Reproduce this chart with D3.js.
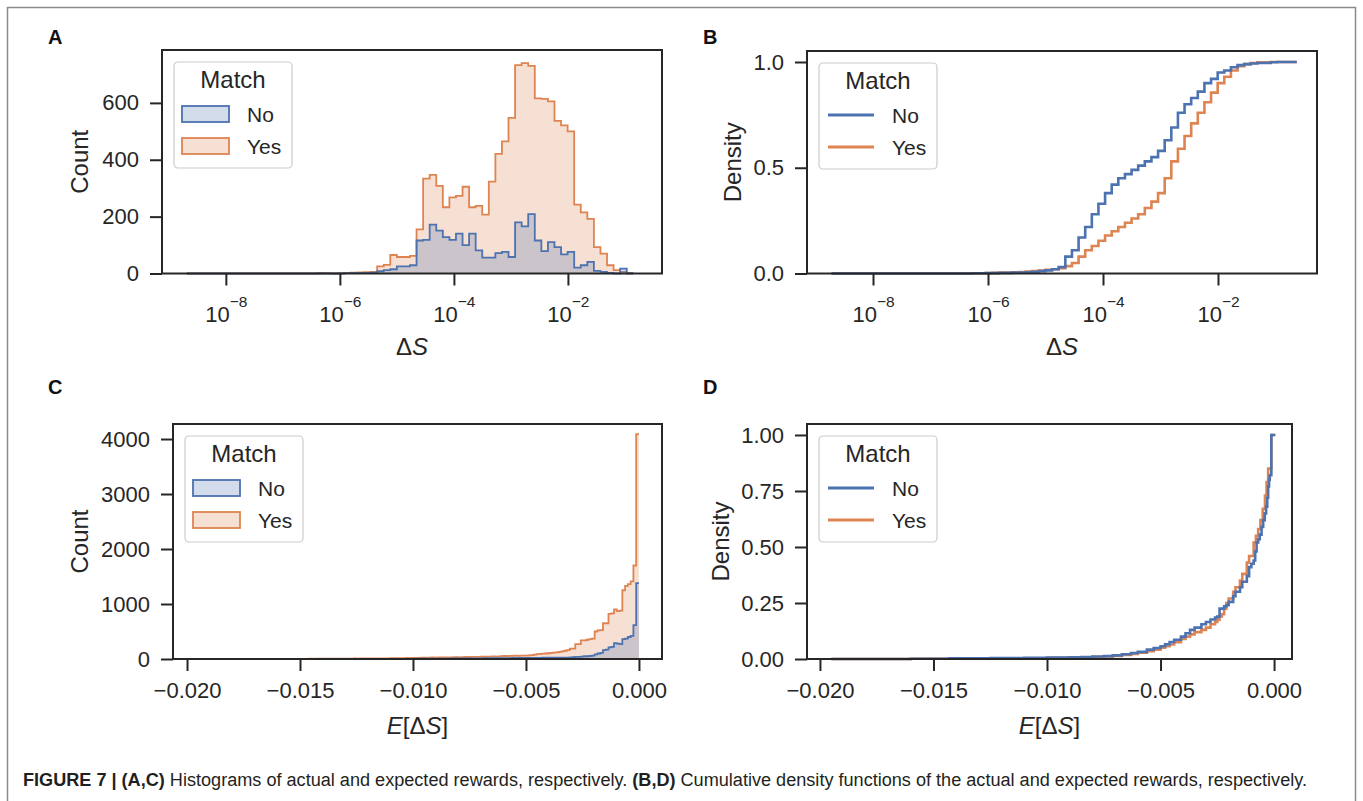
<!DOCTYPE html>
<html>
<head>
<meta charset="utf-8">
<script src="https://cdn.jsdelivr.net/npm/d3@7"></script>
<style>
  body { margin: 0; background: #fff; }
  text { font-family: "Liberation Sans", Arial, sans-serif; }
</style>
</head>
<body>
<svg id="fig" width="1363" height="801"></svg>
<script>
// ---------- data ----------
const matchLevels = ["No", "Yes"];
const matchColors = { No: "#4c72b0", Yes: "#dd8452" };

// A / B : delta S, bins in log10 space
const dsBinStart = -8.687;
const dsBinWidth = 0.1152;
const dsMin = -8.72;   // smallest value (log10)
const dsMax = -0.63;   // largest value (log10)

const dsCountYes = [
  0, 0, 0, 0, 0, 0, 0, 0, 0, 0,
  0, 0, 0, 0, 0, 0, 0, 0, 0, 0,
  2, 1, 0, 1, 2, 3, 4, 5, 6, 25,
  30, 65, 58, 58, 62, 155, 334, 347, 308, 233,
  268, 273, 305, 233, 238, 207, 323, 421, 465, 547,
  733, 740, 730, 616, 614, 605, 537, 521, 500, 242,
  215, 192, 93, 70, 29, 12, 6, 2
];
const dsCountNo = [
  0, 0, 0, 0, 0, 0, 0, 0, 0, 0,
  0, 0, 0, 0, 0, 0, 0, 0, 0, 0,
  0, 0, 0, 0, 1, 1, 1, 2, 3, 8,
  12, 15, 25, 25, 29, 116, 118, 172, 151, 128,
  118, 140, 100, 140, 81, 56, 56, 72, 76, 58,
  180, 166, 209, 116, 79, 110, 93, 67, 76, 21,
  29, 41, 9, 6, 2, 0, 17, 0
];
// ECDF level reached at the start of each bin
const dsCdfNo = [
  0, 0, 0, 0, 0, 0, 0, 0, 0, 0,
  0, 0, 0, 0, 0, 0, 0, 0, 0, 0,
  0, 0.001, 0.001, 0.002, 0.002, 0.003, 0.003, 0.004, 0.004, 0.006,
  0.008, 0.011, 0.015, 0.02, 0.03, 0.08, 0.11, 0.17, 0.22, 0.28,
  0.33, 0.38, 0.42, 0.45, 0.47, 0.49, 0.51, 0.53, 0.55, 0.58,
  0.63, 0.69, 0.76, 0.80, 0.83, 0.86, 0.90, 0.92, 0.95, 0.96,
  0.975, 0.985, 0.99, 0.993, 0.995, 0.995, 0.999, 1.0
];
const dsCdfYes = [
  0, 0, 0, 0, 0, 0, 0, 0, 0, 0,
  0, 0, 0, 0, 0, 0, 0, 0, 0, 0,
  0.0005, 0.001, 0.0015, 0.002, 0.003, 0.004, 0.005, 0.006, 0.007, 0.009,
  0.011, 0.014, 0.017, 0.02, 0.025, 0.035, 0.05, 0.08, 0.11, 0.13,
  0.155, 0.18, 0.20, 0.22, 0.24, 0.26, 0.28, 0.31, 0.34, 0.38,
  0.45, 0.53, 0.59, 0.65, 0.71, 0.76, 0.81, 0.855, 0.90, 0.93,
  0.96, 0.98, 0.99, 0.995, 0.998, 0.999, 1.0, 1.0
];

// C : E[delta S], linear bins
const eBinStart = -0.0196;
const eBinWidth = 0.0001225;
const eCountYes = [
  0, 0, 0, 0, 0, 1, 0, 0, 0, 0,
  0, 0, 1, 0, 0, 0, 1, 0, 0, 1,
  0, 1, 0, 1, 1, 0, 1, 2, 1, 2,
  3, 2, 3, 3, 2, 4, 3, 4, 3, 4,
  4, 5, 4, 5, 6, 5, 6, 6, 5, 7,
  5, 6, 7, 6, 8, 7, 8, 9, 8, 10,
  10, 9, 11, 10, 12, 11, 10, 12, 13, 12,
  15, 14, 16, 15, 17, 16, 18, 17, 20, 19,
  22, 24, 23, 26, 25, 27, 26, 28, 27, 30,
  29, 31, 30, 32, 33, 31, 34, 36, 35, 38,
  38, 40, 39, 42, 41, 44, 43, 46, 45, 48,
  52, 55, 54, 56, 58, 60, 58, 62, 60, 63,
  67, 70, 80, 90, 95, 98, 100, 105, 110, 116,
  120, 128, 140, 150, 160, 190, 190, 270, 270, 340,
  340, 350, 360, 370, 500, 520, 525, 650, 650, 820,
  830, 900, 870, 880, 1250, 1330, 1360, 1410, 1700, 4090
];
const eCountNo = [
  0, 0, 0, 0, 0, 0, 0, 0, 0, 0,
  0, 0, 0, 0, 0, 0, 0, 0, 0, 0,
  0, 0, 0, 0, 0, 1, 0, 0, 0, 0,
  0, 0, 1, 0, 0, 0, 0, 1, 0, 0,
  0, 1, 0, 0, 1, 0, 0, 0, 1, 0,
  1, 0, 0, 1, 0, 1, 0, 1, 0, 1,
  1, 0, 1, 1, 0, 1, 1, 2, 1, 1,
  2, 3, 2, 3, 4, 3, 4, 3, 4, 5,
  4, 5, 5, 6, 5, 6, 7, 6, 7, 8,
  8, 7, 9, 8, 9, 10, 9, 11, 10, 12,
  11, 12, 13, 12, 14, 13, 15, 14, 15, 16,
  15, 16, 17, 16, 18, 17, 19, 18, 20, 19,
  18, 19, 20, 21, 22, 25, 25, 25, 25, 25,
  25, 25, 25, 25, 25, 30, 35, 37, 40, 45,
  50, 50, 55, 60, 85, 100, 110, 160, 170, 210,
  220, 290, 280, 270, 360, 370, 400, 420, 616, 1380
];

// D : ECDF of E[delta S], step points (x, level)
const eCdfXNo = [-0.0195, -0.0160, -0.0143, -0.0125, -0.0110, -0.0100, -0.0090, -0.0085, -0.0080, -0.0075,
  -0.0071, -0.0067, -0.0063, -0.0060, -0.0056, -0.0053, -0.0050, -0.0048, -0.0046, -0.0044,
  -0.0041, -0.0039, -0.0037, -0.0035, -0.0032, -0.0030, -0.0028, -0.0026, -0.0025, -0.0024,
  -0.0022, -0.0021, -0.0020, -0.0018, -0.0017, -0.0015, -0.0014, -0.0012, -0.0011, -0.0010,
  -0.0009, -0.00083, -0.00077, -0.0007, -0.00063, -0.00055, -0.00048, -0.00041, -0.00035, -0.0003,
  -0.00026, -0.00022, -0.00019, -0.00012, 0.00006];
const eCdfYNo = [0, 0.001, 0.003, 0.004, 0.005, 0.006, 0.008, 0.009, 0.011, 0.013,
  0.016, 0.021, 0.027, 0.032, 0.042, 0.049, 0.057, 0.066, 0.076, 0.086,
  0.10, 0.115, 0.13, 0.14, 0.155, 0.165, 0.176, 0.185, 0.19, 0.225,
  0.235, 0.24, 0.255, 0.28, 0.30, 0.32, 0.345, 0.37, 0.41, 0.425,
  0.44, 0.48, 0.52, 0.535, 0.555, 0.59, 0.62, 0.65, 0.68, 0.72,
  0.77, 0.80, 0.82, 1.0, 1.0];
const eCdfXYes = [-0.0195, -0.0160, -0.0140, -0.0120, -0.0100, -0.0090, -0.0085, -0.0080, -0.0075, -0.0071,
  -0.0067, -0.0063, -0.0060, -0.0056, -0.0053, -0.0050, -0.0048, -0.0046, -0.0044, -0.0041,
  -0.0039, -0.0037, -0.0035, -0.0032, -0.0030, -0.0028, -0.0026, -0.0025, -0.0024, -0.0023,
  -0.0022, -0.0021, -0.0020, -0.0018, -0.0017, -0.0015, -0.0014, -0.0012, -0.0011, -0.0009,
  -0.0008, -0.0007, -0.0006, -0.0005, -0.0004, -0.00033, -0.00026, -0.00012, 0.00003];
const eCdfYYes = [0, 0.0008, 0.002, 0.003, 0.005, 0.006, 0.007, 0.009, 0.011, 0.014,
  0.018, 0.022, 0.028, 0.035, 0.042, 0.05, 0.057, 0.065, 0.075, 0.09,
  0.10, 0.11, 0.12, 0.13, 0.14, 0.155, 0.165, 0.175, 0.19, 0.20,
  0.225, 0.25, 0.27, 0.30, 0.32, 0.35, 0.38, 0.43, 0.46, 0.52,
  0.55, 0.58, 0.62, 0.67, 0.73, 0.79, 0.85, 1.0, 1.0];

const countTicksA = [0, 200, 400, 600];
const countTicksC = [0, 1000, 2000, 3000, 4000];
const densTicksB = [0, 0.5, 1.0];
const densTicksD = [0, 0.25, 0.5, 0.75, 1.0];
const logTicks = [-8, -6, -4, -2];
const eTicks = [-0.020, -0.015, -0.010, -0.005, 0.000];

// ---------- layout ----------
const ink = "#262626";
const svg = d3.select("#fig");

const boxA = { left: 162, right: 662, top: 50, bottom: 273.5 };
const boxB = { left: 807, right: 1317, top: 51, bottom: 273.5 };
const boxC = { left: 173, right: 662, top: 424, bottom: 659 };
const boxD = { left: 807, right: 1292, top: 424, bottom: 659 };

// outer frame of the figure
svg.append("rect")
  .attr("x", 7.5).attr("y", 7.5)
  .attr("width", 1348).attr("height", 830)
  .attr("fill", "none")
  .attr("stroke", "#8a8a8a")
  .attr("stroke-width", 1.5);

// scales
const xA = d3.scaleLog().domain([10 ** -9.12, 10 ** -0.35]).range([boxA.left, boxA.right]);
const yA = d3.scaleLinear().domain([0, 786]).range([boxA.bottom, boxA.top]);
const xB = d3.scaleLog().domain([10 ** -9.148, 10 ** -0.278]).range([boxB.left, boxB.right]);
const yB = d3.scaleLinear().domain([0, 1.052]).range([boxB.bottom, boxB.top]);
const xC = d3.scaleLinear().domain([-0.02062, 0.00102]).range([boxC.left, boxC.right]);
const yC = d3.scaleLinear().domain([0, 4273]).range([boxC.bottom, boxC.top]);
const xD = d3.scaleLinear().domain([-0.02057, 0.00079]).range([boxD.left, boxD.right]);
const yD = d3.scaleLinear().domain([0, 1.049]).range([boxD.bottom, boxD.top]);

// ---------- helpers ----------
function drawHist(x, y, edges, counts, color) {
  const pts = counts.map((c, i) => [edges[i], c]);
  pts.push([edges[counts.length], counts[counts.length - 1]]);
  svg.append("path")
    .datum(pts)
    .attr("fill", color)
    .attr("fill-opacity", 0.25)
    .attr("d", d3.area().curve(d3.curveStepAfter)
      .x(d => x(d[0])).y0(y(0)).y1(d => y(d[1])));
  svg.append("path")
    .datum(pts)
    .attr("fill", "none")
    .attr("stroke", color)
    .attr("stroke-width", 1.8)
    .attr("d", d3.line().curve(d3.curveStepAfter).x(d => x(d[0])).y(d => y(d[1])));
}

function drawEcdf(x, y, pts, color) {
  svg.append("path")
    .datum(pts)
    .attr("fill", "none")
    .attr("stroke", color)
    .attr("stroke-width", 2.6)
    .attr("d", d3.line().curve(d3.curveStepAfter).x(d => x(d[0])).y(d => y(d[1])));
}

function drawAxes(box, x, y, xTicks, yTicks, xFmt, yFmt, isLog) {
  const gx = svg.append("g")
    .attr("transform", `translate(0,${box.bottom})`)
    .call(d3.axisBottom(x).tickValues(xTicks).tickSize(12).tickSizeOuter(0).tickPadding(11)
      .tickFormat(isLog ? () => "" : xFmt));
  const gy = svg.append("g")
    .attr("transform", `translate(${box.left},0)`)
    .call(d3.axisLeft(y).tickValues(yTicks).tickSize(12).tickSizeOuter(0).tickPadding(11)
      .tickFormat(yFmt));
  [gx, gy].forEach(g => {
    g.select(".domain").remove();
    g.selectAll("line").attr("stroke", ink).attr("stroke-width", 2);
    g.selectAll("text").attr("fill", ink).attr("font-size", 22)
      .attr("font-family", "'Liberation Sans', Arial, sans-serif");
  });
  if (isLog) {
    gx.selectAll(".tick").each(function (d) {
      const t = d3.select(this).append("text")
        .attr("y", 48.5)
        .attr("fill", ink)
        .attr("font-size", 22)
        .attr("text-anchor", "middle")
        .attr("font-family", "'Liberation Sans', Arial, sans-serif");
      t.append("tspan").text("10");
      t.append("tspan").attr("dy", -15).attr("font-size", 15.5)
        .text("\u2212" + Math.abs(Math.round(Math.log10(d))));
    });
  }
}

function drawSpines(box) {
  svg.append("rect")
    .attr("x", box.left).attr("y", box.top)
    .attr("width", box.right - box.left).attr("height", box.bottom - box.top)
    .attr("fill", "none")
    .attr("stroke", ink)
    .attr("stroke-width", 2);
}

function drawLegend(box, kind) {
  const lx = box.left + 12, ly = box.top + 12;
  const g = svg.append("g").attr("transform", `translate(${lx},${ly})`);
  g.append("rect")
    .attr("width", 118).attr("height", 106).attr("rx", 4)
    .attr("fill", "#fff").attr("fill-opacity", 0.8)
    .attr("stroke", "#cccccc").attr("stroke-width", 1.2);
  g.append("text")
    .attr("x", 59).attr("y", 26)
    .attr("text-anchor", "middle")
    .attr("font-size", 24)
    .attr("fill", ink)
    .text("Match");
  matchLevels.forEach((lvl, i) => {
    const cy = 52 + i * 32;
    if (kind === "patch") {
      g.append("rect")
        .attr("x", 8).attr("y", cy - 8).attr("width", 47).attr("height", 16)
        .attr("fill", matchColors[lvl]).attr("fill-opacity", 0.25)
        .attr("stroke", matchColors[lvl]).attr("stroke-width", 1.8);
    } else {
      g.append("line")
        .attr("x1", 9).attr("x2", 55).attr("y1", cy).attr("y2", cy)
        .attr("stroke", matchColors[lvl]).attr("stroke-width", 3);
    }
    g.append("text")
      .attr("x", 73).attr("y", cy + 7.5)
      .attr("font-size", 21)
      .attr("fill", ink)
      .text(lvl);
  });
}

function yLabel(x, box, label) {
  svg.append("text")
    .attr("transform", `translate(${x},${(box.top + box.bottom) / 2}) rotate(-90)`)
    .attr("text-anchor", "middle")
    .attr("font-size", 24)
    .attr("fill", ink)
    .text(label);
}

function xMathLabel(box, y, withE) {
  const t = svg.append("text")
    .attr("x", (box.left + box.right) / 2).attr("y", y)
    .attr("text-anchor", "middle")
    .attr("font-size", 24)
    .attr("fill", ink)
    .attr("font-family", "'DejaVu Sans', sans-serif");
  if (withE) {
    t.append("tspan").attr("font-style", "italic").text("E");
    t.append("tspan").text("[\u0394");
  } else {
    t.append("tspan").text("\u0394");
  }
  t.append("tspan").attr("font-style", "italic").text("S");
  if (withE) t.append("tspan").text("]");
}

function panelLetter(x, y, s) {
  svg.append("text")
    .attr("x", x).attr("y", y)
    .attr("font-size", 20)
    .attr("font-weight", "bold")
    .attr("fill", "#111")
    .text(s);
}

const fmtMinus = d => d3.format(".3f")(d).replace("-", "\u2212");

// ---------- panel A ----------
const dsEdges = d3.range(dsCountYes.length + 1).map(i => 10 ** (dsBinStart + i * dsBinWidth));
drawHist(xA, yA, dsEdges, dsCountYes, matchColors.Yes);
drawHist(xA, yA, dsEdges, dsCountNo, matchColors.No);
drawAxes(boxA, xA, yA, logTicks.map(e => 10 ** e), countTicksA, null, d3.format("d"), true);
drawSpines(boxA);
drawLegend(boxA, "patch");
yLabel(88, boxA, "Count");
xMathLabel(boxA, 355, false);
panelLetter(48, 44, "A");

// ---------- panel B ----------
const cdfPoints = cdf => [[10 ** dsMin, 0]]
  .concat(cdf.map((v, i) => [dsEdges[i], v]))
  .concat([[10 ** dsMax, 1]]);
drawEcdf(xB, yB, cdfPoints(dsCdfYes), matchColors.Yes);
drawEcdf(xB, yB, cdfPoints(dsCdfNo), matchColors.No);
drawAxes(boxB, xB, yB, logTicks.map(e => 10 ** e), densTicksB, null, d3.format(".1f"), true);
drawSpines(boxB);
drawLegend(boxB, "line");
yLabel(741, boxB, "Density");
xMathLabel(boxB, 355, false);
panelLetter(703, 44, "B");

// ---------- panel C ----------
const eEdges = d3.range(eCountYes.length + 1).map(i => eBinStart + i * eBinWidth);
drawHist(xC, yC, eEdges, eCountYes, matchColors.Yes);
drawHist(xC, yC, eEdges, eCountNo, matchColors.No);
drawAxes(boxC, xC, yC, eTicks, countTicksC, fmtMinus, d3.format("d"), false);
drawSpines(boxC);
drawLegend(boxC, "patch");
yLabel(88, boxC, "Count");
xMathLabel(boxC, 734, true);
panelLetter(48, 394, "C");

// ---------- panel D ----------
drawEcdf(xD, yD, eCdfXYes.map((v, i) => [v, eCdfYYes[i]]), matchColors.Yes);
drawEcdf(xD, yD, eCdfXNo.map((v, i) => [v, eCdfYNo[i]]), matchColors.No);
drawAxes(boxD, xD, yD, eTicks, densTicksD, fmtMinus, d3.format(".2f"), false);
drawSpines(boxD);
drawLegend(boxD, "line");
yLabel(729, boxD, "Density");
xMathLabel(boxD, 734, true);
panelLetter(703, 394, "D");

// ---------- caption ----------
const cap = svg.append("text")
  .attr("x", 23).attr("y", 786)
  .attr("font-size", 18)
  .attr("fill", "#231f20")
  .attr("textLength", 1284)
  .attr("lengthAdjust", "spacingAndGlyphs");
cap.append("tspan").attr("font-weight", "bold").text("FIGURE 7 | (A,C)");
cap.append("tspan").text(" Histograms of actual and expected rewards, respectively. ");
cap.append("tspan").attr("font-weight", "bold").text("(B,D)");
cap.append("tspan").text(" Cumulative density functions of the actual and expected rewards, respectively.");
</script>
</body>
</html>
